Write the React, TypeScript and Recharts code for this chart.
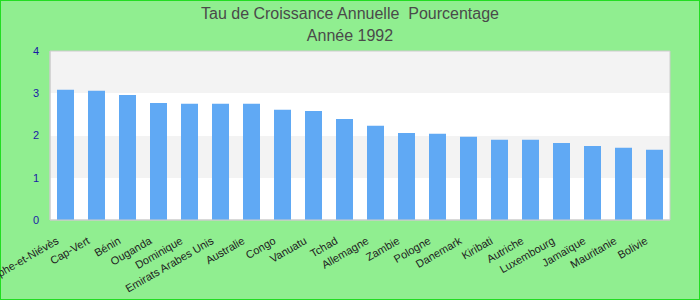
import { BarChart, Bar, XAxis, YAxis, CartesianGrid, ReferenceArea } from "recharts";

const countries = [
  "Saint-Christophe-et-Niévès",
  "Cap-Vert",
  "Bénin",
  "Ouganda",
  "Dominique",
  "Emirats Arabes Unis",
  "Australie",
  "Congo",
  "Vanuatu",
  "Tchad",
  "Allemagne",
  "Zambie",
  "Pologne",
  "Danemark",
  "Kiribati",
  "Autriche",
  "Luxembourg",
  "Jamaïque",
  "Mauritanie",
  "Bolivie",
];

const growth = [
  3.08, 3.06, 2.96, 2.77, 2.75, 2.75, 2.75, 2.61, 2.58, 2.39,
  2.23, 2.06, 2.04, 1.97, 1.9, 1.9, 1.82, 1.75, 1.71, 1.66,
];

const yTicks = [0, 1, 2, 3, 4];

const data = countries.map((name, i) => ({ name, value: growth[i] }));

const FONT = "Arial, 'Liberation Sans', sans-serif";

// rotated country label, anchored by its end just left of the bar centre
const CountryTick = (props: any) => {
  const { x, y, payload } = props;
  const ax = x - 6;
  const ay = y + 15;
  return (
    <text
      x={ax}
      y={ay}
      transform={`rotate(-30, ${ax}, ${ay})`}
      textAnchor="end"
      fontSize={11}
      fontFamily={FONT}
      fill="#222"
    >
      {payload.value}
    </text>
  );
};

const App = () => (
  <div
    style={{
      position: "absolute",
      left: 0,
      top: 0,
      width: 700,
      height: 300,
      background: "#90ee90",
      border: "1px solid #22dd22",
      boxSizing: "border-box",
      fontFamily: FONT,
    }}
  >
    <div
      style={{
        position: "absolute",
        top: 3,
        left: 0,
        width: 698,
        textAlign: "center",
        fontSize: 16,
        lineHeight: "20px",
        color: "#4a4a4a",
      }}
    >
      <div>Tau de Croissance Annuelle&nbsp; Pourcentage</div>
      <div style={{ marginTop: 2 }}>Année 1992</div>
    </div>
    <div style={{ position: "absolute", left: -1, top: -1 }}>
      <BarChart
        width={700}
        height={300}
        data={data}
        margin={{ top: 51, right: 30, bottom: 0, left: 20 }}
        barCategoryGap={0}
      >
        <CartesianGrid
          vertical={false}
          stroke="transparent"
          horizontalFill={["#f3f3f3", "#ffffff"]}
        />
        <ReferenceArea y1={0} y2={4} fill="none" stroke="#cccccc" strokeWidth={1} />
        <XAxis
          dataKey="name"
          interval={0}
          height={80}
          tickLine={false}
          axisLine={{ stroke: "#cccccc" }}
          tick={<CountryTick />}
        />
        <YAxis
          domain={[0, 4]}
          ticks={yTicks}
          width={30}
          tickLine={false}
          axisLine={{ stroke: "#cccccc" }}
          tickMargin={5}
          tick={{ fontSize: 11, fill: "#1a1aa6", fontFamily: FONT }}
        />
        <Bar dataKey="value" fill="#60a9f4" barSize={17} isAnimationActive={false} />
      </BarChart>
    </div>
  </div>
);

export default App;
